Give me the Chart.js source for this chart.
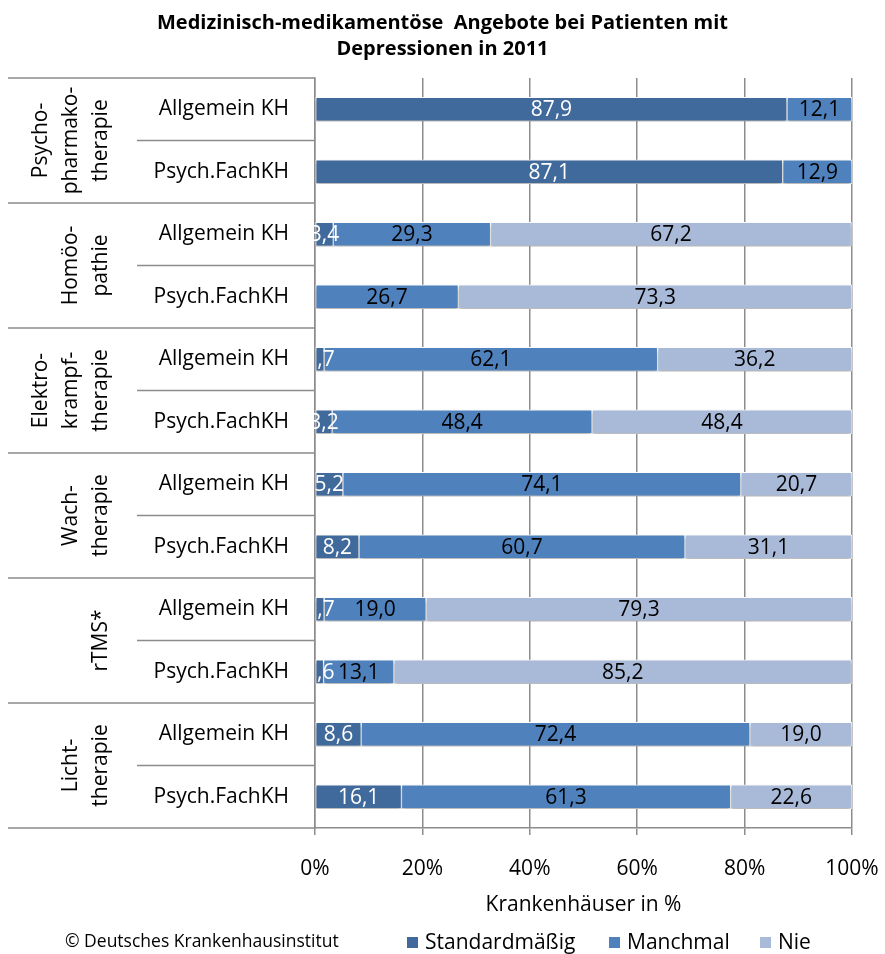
<!DOCTYPE html>
<html>
<head>
<meta charset="utf-8">
<script src="https://cdn.jsdelivr.net/npm/chart.js@4"></script>
<style>
  html, body { margin: 0; padding: 0; background: #fff; }
  #wrap { width: 885px; height: 954px; }
</style>
</head>
<body>
<div id="wrap"><canvas id="chart"></canvas></div>
<script>
const FONT = "'Open Sans', sans-serif";

const groups = [
  ["Psycho-", "pharmako-", "therapie"],
  ["Homöo-", "pathie"],
  ["Elektro-", "krampf-", "therapie"],
  ["Wach-", "therapie"],
  ["rTMS*"],
  ["Licht-", "therapie"]
];
const subLabels = ["Allgemein KH", "Psych.FachKH"];
const categories = groups.flatMap(() => subLabels);

const standard = [87.9, 87.1, 3.4, 0, 1.7, 3.2, 5.2, 8.2, 1.7, 1.6, 8.6, 16.1];
const manchmal = [12.1, 12.9, 29.3, 26.7, 62.1, 48.4, 74.1, 60.7, 19.0, 13.1, 72.4, 61.3];
const nie      = [0, 0, 67.2, 73.3, 36.2, 48.4, 20.7, 31.1, 79.3, 85.2, 19.0, 22.6];

const seriesNames = ["Standardmäßig", "Manchmal", "Nie"];
const xTicks = [0, 20, 40, 60, 80, 100];
const titleLines = ["Medizinisch-medikamentöse  Angebote bei Patienten mit", "Depressionen in 2011"];
const xTitle = "Krankenhäuser in %";
const source = "© Deutsches Krankenhausinstitut";

const colors = ["#40699c", "#4f81bd", "#a9bad9"];
const labelColors = ["#ffffff", "#000000", "#000000"];
const lineGrey = "#8c8c8c";

const fmt = v => v.toFixed(1).replace(".", ",");

/* ---------- shadow under the bars ---------- */
const shadowPlugin = {
  id: "barShadow",
  beforeDatasetsDraw(chart) {
    const ctx = chart.ctx;
    ctx.save();
    ctx.shadowColor = "rgba(0,0,0,0.30)";
    ctx.shadowBlur = 4;
    ctx.shadowOffsetY = 3;
  },
  afterDatasetsDraw(chart) {
    chart.ctx.restore();
  }
};

/* ---------- values inside the segments ---------- */
const valueLabels = {
  id: "valueLabels",
  afterDatasetsDraw(chart) {
    const ctx = chart.ctx;
    ctx.save();
    ctx.font = "21px " + FONT;
    ctx.textAlign = "center";
    ctx.textBaseline = "middle";
    chart.data.datasets.forEach((ds, di) => {
      const meta = chart.getDatasetMeta(di);
      meta.data.forEach((bar, i) => {
        const v = ds.data[i];
        if (!v) return;
        ctx.fillStyle = labelColors[di];
        ctx.fillText(fmt(v), (bar.x + bar.base) / 2, bar.y + 1);
      });
    });
    ctx.restore();
  }
};

/* ---------- left category frame, group names, legend, source ---------- */
const sideFrame = {
  id: "sideFrame",
  afterDraw(chart) {
    const ctx = chart.ctx;
    const y = chart.scales.y;
    const area = chart.chartArea;
    const half = (y.getPixelForValue(1) - y.getPixelForValue(0)) / 2;

    ctx.save();
    ctx.strokeStyle = lineGrey;
    ctx.lineWidth = 1.5;
    ctx.beginPath();
    for (let g = 0; g <= groups.length; g++) {
      const yy = g < groups.length ? y.getPixelForValue(g * 2) - half : y.getPixelForValue(g * 2 - 1) + half;
      ctx.moveTo(8, yy); ctx.lineTo(area.left, yy);
      if (g < groups.length) {
        const ym = y.getPixelForValue(g * 2) + half;
        ctx.moveTo(137, ym); ctx.lineTo(area.left, ym);
      }
    }
    ctx.stroke();

    ctx.fillStyle = "#000";
    ctx.font = "21px " + FONT;
    ctx.textAlign = "center";
    ctx.textBaseline = "middle";
    groups.forEach((lines, g) => {
      const yc = (y.getPixelForValue(g * 2) + y.getPixelForValue(g * 2 + 1)) / 2;
      ctx.save();
      ctx.translate(101, yc);
      ctx.rotate(-Math.PI / 2);
      lines.forEach((t, i) => ctx.fillText(t, 0, (i - (lines.length - 1)) * 30));
      ctx.restore();
    });

    // legend
    const legendX = [407, 609, 760];
    ctx.textAlign = "left";
    ctx.font = "21px " + FONT;
    chart.data.datasets.forEach((ds, i) => {
      ctx.fillStyle = ds.backgroundColor;
      ctx.fillRect(legendX[i], 937, 11, 11);
      ctx.fillStyle = "#000";
      ctx.fillText(ds.label, legendX[i] + 18, 943);
    });

    // source
    ctx.font = "17.5px " + FONT;
    ctx.fillText(source, 65, 942);
    ctx.restore();
  }
};

const datasets = [standard, manchmal, nie].map((data, i) => ({
  label: seriesNames[i],
  data,
  backgroundColor: colors[i],
  borderColor: "#ffffff",
  borderWidth: 1,
  borderSkipped: false,
  barThickness: 24
}));

new Chart(document.getElementById("chart"), {
  type: "bar",
  data: { labels: categories, datasets },
  plugins: [shadowPlugin, valueLabels, sideFrame],
  options: {
    indexAxis: "y",
    responsive: true,
    maintainAspectRatio: false,
    animation: false,
    layout: { padding: 0 },
    plugins: {
      legend: { display: false },
      tooltip: { enabled: false },
      title: {
        display: true,
        text: titleLines,
        color: "#000",
        font: { family: FONT, size: 20, weight: "bold", lineHeight: 1.3 },
        padding: { top: 10, bottom: 16 }
      }
    },
    scales: {
      x: {
        stacked: true,
        min: 0,
        max: 100,
        afterBuildTicks: s => { s.ticks = xTicks.map(v => ({ value: v })); },
        afterFit: s => { s.height = 126; s.paddingLeft = 0; s.paddingRight = 33; },
        grid: { color: lineGrey, lineWidth: 1.5, tickLength: 7, drawTicks: true },
        border: { display: true, color: lineGrey, width: 1.5 },
        ticks: {
          color: "#000",
          padding: 21,
          maxRotation: 0,
          font: { family: FONT, size: 21 },
          callback: v => v + "%"
        },
        title: {
          display: true,
          text: xTitle,
          color: "#000",
          font: { family: FONT, size: 21 },
          padding: { top: 0, bottom: 36 }
        }
      },
      y: {
        stacked: true,
        afterFit: s => { s.width = 315; },
        grid: { display: false },
        border: { display: true, color: lineGrey, width: 1.5 },
        ticks: {
          color: "#000",
          padding: 18,
          font: { family: FONT, size: 21 }
        }
      }
    }
  }
});
</script>
</body>
</html>
